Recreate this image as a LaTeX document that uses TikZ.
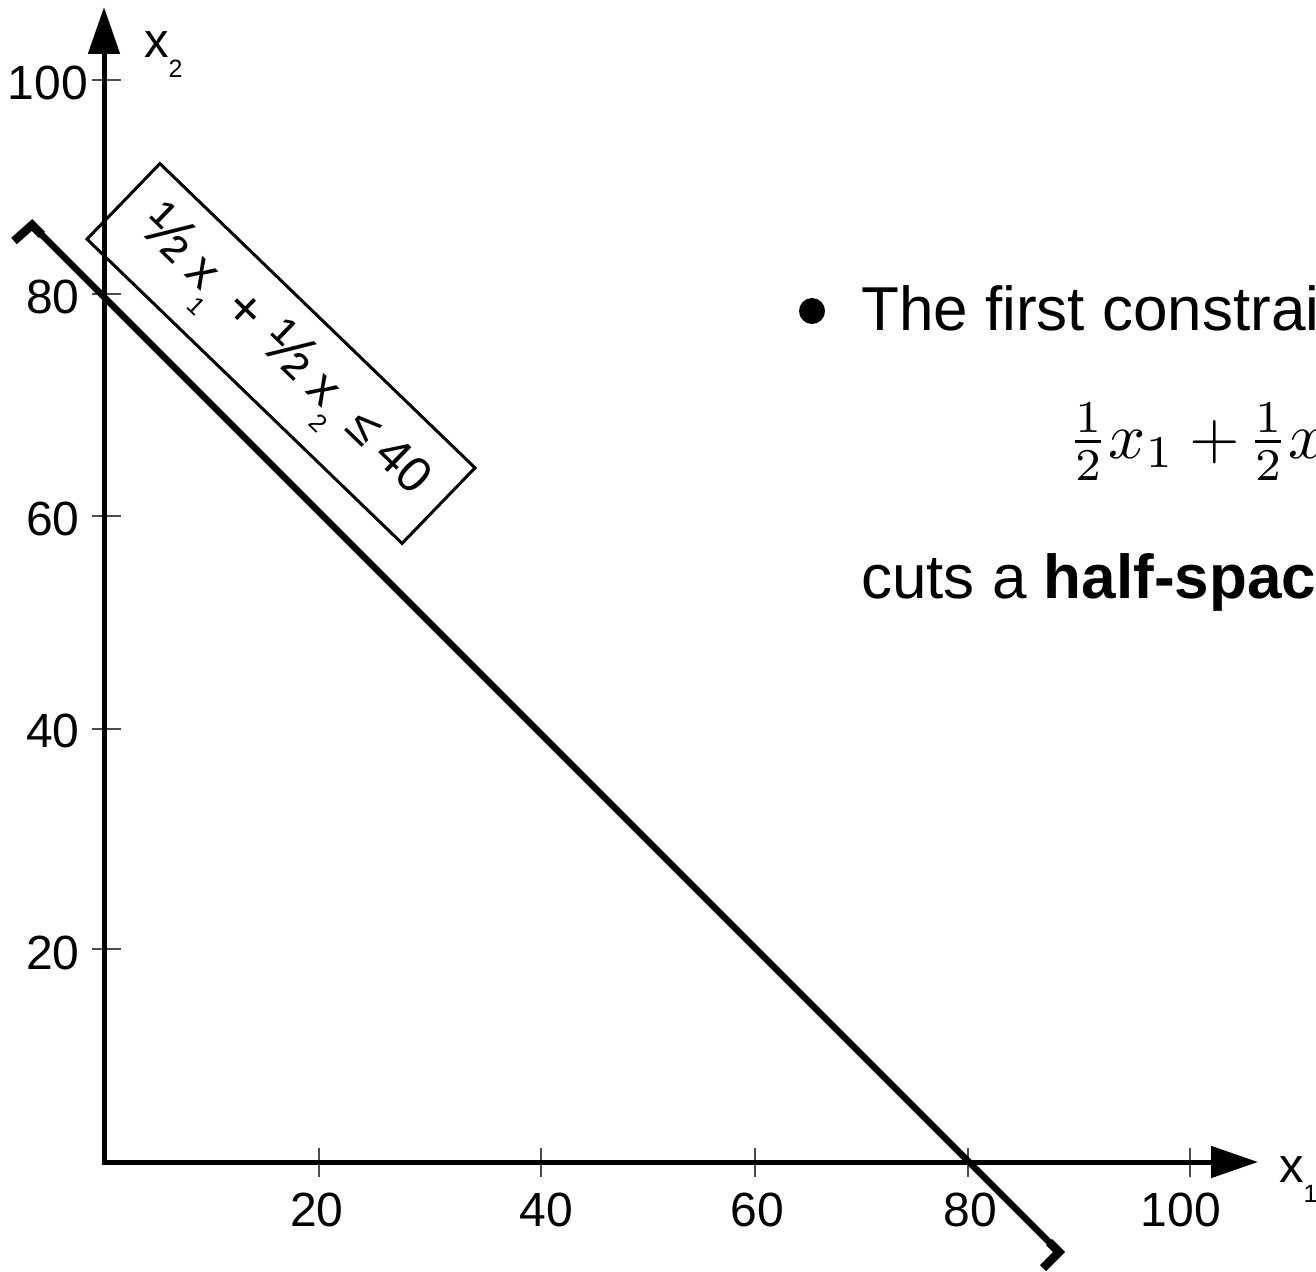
\documentclass[tikz,border=0pt]{standalone}
\usepackage[no-math]{fontspec}
\setmainfont{Liberation Sans}
\usetikzlibrary{arrows.meta,calc}
\begin{document}
\begin{tikzpicture}[x=1pt,y=-1pt,
  axisline/.style={line width=5pt, line join=miter,
    {Triangle[length=47pt,width=31pt]}-{Triangle[length=47pt,width=31pt]}},
  tickmark/.style={line width=1.5pt, black!70},
  ticklab/.style={font=\fontsize{48}{58}\selectfont, inner sep=0pt},
  axislab/.style={font=\fontsize{49}{58}\selectfont, inner sep=0pt, anchor=base west},
  constraint/.style={line width=6.5pt},
  hookline/.style={line width=8.5pt, line join=miter},
  labelbox/.style={draw, line width=3pt, rotate=-44, minimum width=438pt, minimum height=105pt, inner sep=0pt},
  bodytext/.style={font=\fontsize{62}{74}\selectfont, inner sep=0pt, anchor=base west}
]
\path[use as bounding box] (0,0) rectangle (1316,1271);
\clip (0,0) rectangle (1316,1271);

% ticks
\foreach \y in {80,294,516,729,949} \draw[tickmark] (92,\y) -- (121,\y);
\foreach \x in {319,541,755,968,1190} \draw[tickmark] (\x,1148) -- (\x,1177);

% axes
\coordinate (O) at (104,1162);
\coordinate (ytip) at (104,7);
\coordinate (xtip) at (1258,1162);
\draw[axisline] (ytip) -- (O) -- (xtip);

% tick labels
\node[ticklab] (l100) at (48,83) {100};
\node[ticklab] (l80) at (53,297) {80};
\node[ticklab] (l60) at (53,519) {60};
\node[ticklab] (l40) at (53,731) {40};
\node[ticklab] (l20) at (53,953) {20};
\node[ticklab] (b20) at (317,1210) {20};
\node[ticklab] (b40) at (546,1210) {40};
\node[ticklab] (b60) at (757,1210) {60};
\node[ticklab] (b80) at (970,1210) {80};
\node[ticklab] (b100) at (1181,1210) {100};

% axis labels
\node[axislab] (x2lab) at (144,58) {x\raisebox{-20pt}{\fontsize{25}{30}\selectfont 2}};
\node[axislab] (x1lab) at (1279,1182) {x\raisebox{-20pt}{\fontsize{25}{30}\selectfont 1}};

% constraint line with hooks
\coordinate (A) at (32,225);
\coordinate (B) at (1059,1252);
\coordinate (Ah) at (14,241);
\coordinate (Bh) at (1043,1268);
\draw[constraint] (A) -- (B);
\draw[hookline] (Ah) -- (A) -- ($(A)!14pt!(B)$);
\draw[hookline] (Bh) -- (B) -- ($(B)!14pt!(A)$);

% rotated label box
\node[labelbox] (cbox) at (281,353.5) {};
\node[rotate=-44, anchor=base, inner sep=0pt, font=\fontsize{50}{60}\selectfont] (clabel) at (274.6,362.7)
  {\scalebox{1.25}{½}\hspace{13pt}x\raisebox{-22pt}{\fontsize{25}{30}\selectfont 1}\hspace{1pt} \scalebox{1.1}{+}\hspace{4pt} \scalebox{1.25}{½}\hspace{13pt}x\raisebox{-22pt}{\fontsize{25}{30}\selectfont 2}\hspace{1pt} ≤ 40};

% right-hand text
\node[circle, fill, minimum size=26pt, inner sep=0pt] (bullet) at (812,311) {};
\node[bodytext] (line1) at (861,330) {The first constraint};
\node[inner sep=0pt, anchor=base west] (eq) at (1067,458) {\scalebox{6.5}{\fontsize{10}{12}\selectfont$\frac{1}{2}x_1+\mskip-2mu\frac{1}{2}x_2\le 40$}};
\node[bodytext] (line3) at (861,598) {cuts a \textbf{half-space}};
\end{tikzpicture}
\end{document}
